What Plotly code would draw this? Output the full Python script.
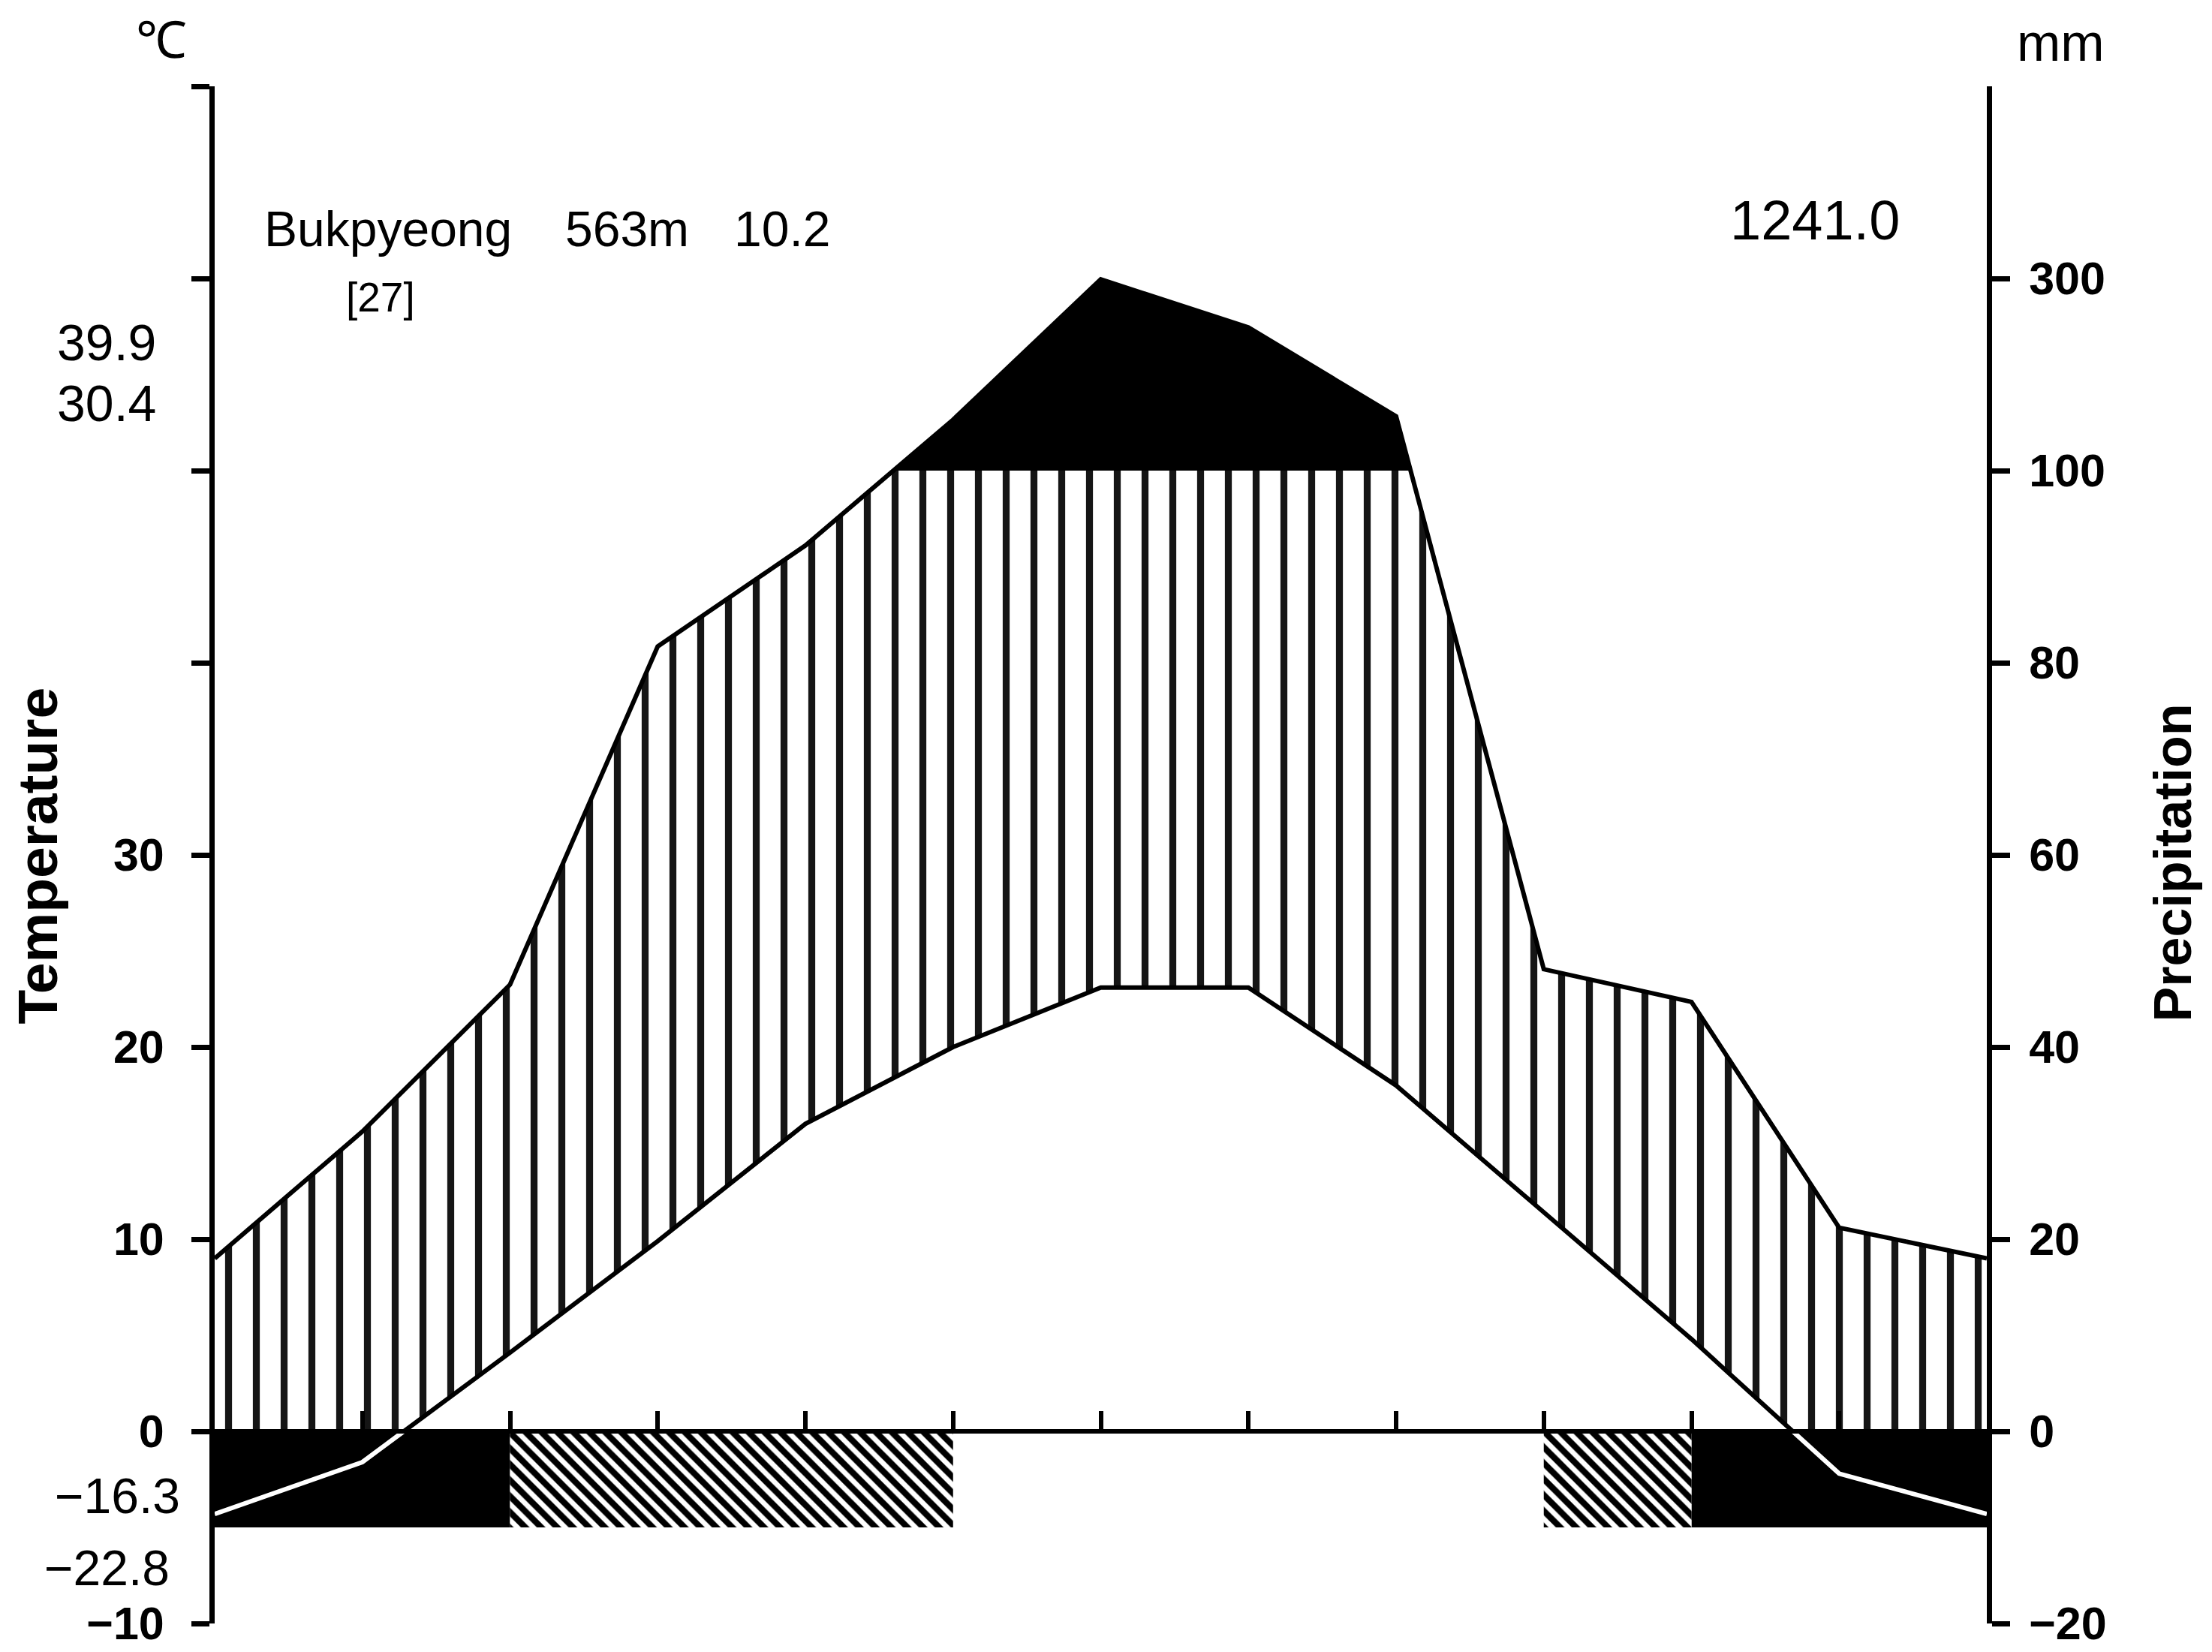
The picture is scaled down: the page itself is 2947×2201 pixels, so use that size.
import plotly.graph_objects as go

# ---------------- data ----------------
months = ['Jan', 'Feb', 'Mar', 'Apr', 'May', 'Jun', 'Jul', 'Aug', 'Sep', 'Oct', 'Nov', 'Dec', 'Jan']
temp_c = [-4.3, -1.6, 4.1, 9.9, 16.0, 20.0, 23.1, 23.1, 18.0, 11.4, 4.8, -2.2, -4.3]
precip_mm = [18.0, 31.2, 46.5, 81.7, 92.2, 153.0, 299.0, 249.0, 156.4, 48.1, 44.7, 21.2, 18.0]
# frost class for each month span (between consecutive points)
frost_class = ['black', 'black', 'hatch', 'hatch', 'hatch', 'none', 'none', 'none', 'none',
               'hatch', 'black', 'black']

station = 'Bukpyeong'
elevation = '563m'
years = '[27]'
mean_temp = '10.2'
annual_precip = '1241.0'
abs_max = '39.9'
mean_daily_max = '30.4'
mean_daily_min = '−16.3'
abs_min = '−22.8'

left_tickvals = [-10, 0, 10, 20, 30, 40, 50, 60, 70]
left_ticktext = ['−10', '0', '10', '20', '30', '', '', '', '']
right_tickvals = [-10, 0, 10, 20, 30, 40, 50, 60]
right_ticktext = ['−20', '0', '20', '40', '60', '80', '100', '300']

# ---------------- helpers ----------------
YMIN, YMAX = -10, 70
FROST_DEPTH = -5


def p_scale(p):
    # Walter-Lieth: 20 mm = 10 degC below 100 mm, compressed above 100 mm
    return p / 2.0 if p <= 100 else 50 + (p - 100) / 20.0


def densify(xs, ys, level):
    ox, oy = [xs[0]], [ys[0]]
    for i in range(len(xs) - 1):
        y0, y1 = ys[i], ys[i + 1]
        if (y0 - level) * (y1 - level) < 0:
            t = (level - y0) / (y1 - y0)
            ox.append(xs[i] + t * (xs[i + 1] - xs[i]))
            oy.append(level)
        ox.append(xs[i + 1])
        oy.append(ys[i + 1])
    return ox, oy


xs = list(range(len(months)))
pe = [p_scale(p) for p in precip_mm]

# hatched humid area (between temperature and min(precip, 100 mm))
dpx, dpy = densify(xs, pe, 50)
clip_y = [min(v, 50) for v in dpy]
hatch_x = dpx + xs[::-1]
hatch_y = clip_y + temp_c[::-1]

# black area above 100 mm
blk_x = [a for a, b in zip(dpx, dpy) if b >= 50]
blk_y = [b for b in dpy if b >= 50]

# negative temperature segments (white line over frost bar)
dtx, dty = densify(xs, temp_c, 0)
neg_x, neg_y = [], []
run_x, run_y = [], []
for a, b in zip(dtx, dty):
    if b <= 0:
        run_x.append(a)
        run_y.append(b)
    else:
        if len(run_x) > 1:
            neg_x += run_x + [None]
            neg_y += run_y + [None]
        run_x, run_y = [], []
if len(run_x) > 1:
    neg_x += run_x
    neg_y += run_y


def bars(kind):
    bx, by = [], []
    i = 0
    n = len(frost_class)
    while i < n:
        if frost_class[i] == kind:
            j = i
            while j + 1 < n and frost_class[j + 1] == kind:
                j += 1
            bx += [xs[i], xs[j + 1], xs[j + 1], xs[i], xs[i], None]
            by += [0, 0, FROST_DEPTH, FROST_DEPTH, 0, None]
            i = j + 1
        else:
            i += 1
    return bx, by


bbx, bby = bars('black')
hbx, hby = bars('hatch')

# ---------------- figure ----------------
W, H = 2947, 2201
L, R, T, B = 278, 308, 107, 37
LW = 6
AW = 7

fig = go.Figure()
fig.add_trace(go.Scatter(
    x=hatch_x, y=hatch_y, mode='none', fill='toself', fillcolor='white',
    fillpattern=dict(shape='|', size=37, solidity=0.25, fgcolor='#151515',
                     bgcolor='white', fillmode='replace'),
    hoverinfo='skip'))
fig.add_trace(go.Scatter(x=blk_x, y=blk_y, mode='none', fill='toself',
                         fillcolor='black', hoverinfo='skip'))
fig.add_trace(go.Scatter(x=xs, y=pe, mode='lines', yaxis='y2',
                         line=dict(color='black', width=LW), name='Precipitation'))
fig.add_trace(go.Scatter(x=xs, y=temp_c, mode='lines',
                         line=dict(color='black', width=LW), name='Temperature'))
fig.add_trace(go.Scatter(x=bbx, y=bby, mode='none', fill='toself', fillcolor='black',
                         hoverinfo='skip'))
fig.add_trace(go.Scatter(
    x=hbx, y=hby, mode='none', fill='toself', fillcolor='white',
    fillpattern=dict(shape='\\', size=15, solidity=0.55, fgcolor='black',
                     bgcolor='white', fillmode='replace'),
    hoverinfo='skip'))
fig.add_trace(go.Scatter(x=neg_x, y=neg_y, mode='lines',
                         line=dict(color='white', width=LW), hoverinfo='skip'))

zero_pos = (0 - YMIN) / (YMAX - YMIN)
tickfont = dict(family='Liberation Sans', size=61, color='black', weight='bold')

fig.update_layout(
    width=W, height=H,
    margin=dict(l=L, r=R, t=T, b=B),
    paper_bgcolor='white', plot_bgcolor='white',
    showlegend=False,
    font=dict(family='Liberation Sans', color='black'),
    xaxis=dict(range=[0, 12], anchor='free', position=zero_pos,
               showline=True, linecolor='black', linewidth=LW,
               ticks='inside', tickvals=xs[1:-1], ticklen=24, tickwidth=LW,
               tickcolor='black', showticklabels=False, showgrid=False,
               zeroline=False),
    yaxis=dict(range=[YMIN, YMAX], showline=True, linecolor='black', linewidth=AW,
               ticks='outside', ticklen=24, tickwidth=AW, tickcolor='black',
               tickvals=left_tickvals, ticktext=left_ticktext, tickfont=tickfont,
               ticklabelstandoff=24, showgrid=False, zeroline=False),
    yaxis2=dict(range=[YMIN, YMAX], overlaying='y', side='right', anchor='x',
                showline=True, linecolor='black', linewidth=AW,
                ticks='outside', ticklen=24, tickwidth=AW, tickcolor='black',
                tickvals=right_tickvals, ticktext=right_ticktext, tickfont=tickfont,
                ticklabelstandoff=13, showgrid=False, zeroline=False),
)


def ax(X):
    return (X - L) / (W - L - R)


def ay(Y):
    return (H - B - Y) / (H - T - B)


def note(text, X, Y, xanchor='center', size=66, bold=False, angle=0):
    fig.add_annotation(
        text=text, x=ax(X), y=ay(Y), xref='paper', yref='paper',
        xanchor=xanchor, yanchor='middle', showarrow=False, textangle=angle,
        font=dict(family='Liberation Sans', size=size, color='black',
                  weight='bold' if bold else 'normal'))


note('℃', 207, 45, size=68)
note('mm', 2737, 49, size=70)
note(station, 342, 298, 'left', 66)
note(elevation, 743, 298, 'left', 66)
note(mean_temp, 968, 298, 'left', 66)
note(years, 451, 389, 'left', 55)
note(annual_precip, 2525, 286, 'right', 74)
note(abs_max, 202, 449, 'right', 68)
note(mean_daily_max, 202, 531, 'right', 68)
note(mean_daily_min, 234, 1993, 'right', 66)
note(abs_min, 220, 2090, 'right', 66)
note('Temperature', 42, 1137, size=75, bold=True, angle=-90)
note('Precipitation', 2887, 1146, size=70, bold=True, angle=-90)

fig.write_html('out.html')
